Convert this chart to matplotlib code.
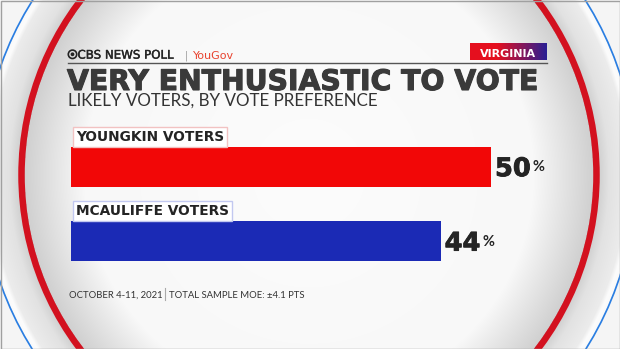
import numpy as np
import matplotlib.pyplot as plt
from matplotlib.patches import Circle, Rectangle
import matplotlib.patheffects as pe

groups = ["YOUNGKIN VOTERS", "MCAULIFFE VOTERS"]
values = [50, 44]
bar_colors = ["#f20707", "#1b2ab5"]
box_edges = ["#f2c2c2", "#c2c8f0"]

title = "VERY ENTHUSIASTIC TO VOTE"
subtitle = "LIKELY VOTERS, BY VOTE PREFERENCE"
state = "VIRGINIA"
footer_date = "OCTOBER 4-11, 2021"
footer_moe = "TOTAL SAMPLE MOE: ±4.1 PTS"

W, H = 620, 349
plt.rcParams["font.family"] = ["Lato", "DejaVu Sans"]
heavy = ["DejaVu Sans"]
dark = "#242424"

fig = plt.figure(figsize=(W / 100, H / 100), dpi=100)
fig.patch.set_facecolor("#f4f4f4")

# full-figure axes in pixel coordinates for the backdrop and the header text
bg = fig.add_axes([0, 0, 1, 1])

cx, cy = 309, 175
yy, xx = np.mgrid[0:H, 0:W] + 0.5
r = np.hypot(xx - cx, yy - cy)
shade = np.full(r.shape, 245.0)
inside = r < 284
shade[inside] = np.interp(r[inside], [0, 225, 284], [252, 248, 208])
band = (r >= 284) & (r < 326)
shade[band] = np.interp(r[band], [284, 291, 300, 318, 322, 326], [192, 210, 226, 236, 252, 250])
img = np.dstack([shade] * 3) / 255
bg.imshow(img, extent=(0, W, H, 0), interpolation="bilinear")

bg.add_patch(Circle((cx, cy), 287.5, fill=False, ec="#d3111f", lw=6.5 * 0.72))
bg.add_patch(Circle((cx, cy), 327, fill=False, ec="#2a7ee2", lw=1.7 * 0.72))
bg.add_patch(Rectangle((0.5, 0.5), W - 1, H - 1, fill=False, ec="#a0a0a0", lw=1))

# header: cbs eye + poll name + yougov
bg.add_patch(Circle((72.5, 54.3), 4.2, fill=False, ec=dark, lw=1.2))
bg.add_patch(Circle((72.5, 54.3), 1.9, fc=dark, ec="none"))
bg.text(77.5, 58.6, "CBS NEWS POLL", fontsize=8.5, family=heavy, color=dark, va="baseline",
        path_effects=[pe.withStroke(linewidth=0.3, foreground=dark)])
bg.text(185, 58.6, "|", fontsize=7, family=heavy, color="#999999", va="baseline")
bg.text(193, 58.6, "YouGov", fontsize=8.0, family=heavy, color="#e8432f", va="baseline")
bg.plot([68, 547], [62.8, 62.8], color="#555555", lw=1.0)

# state tag with red-to-blue gradient
grad = np.linspace(0, 1, 200)
red = np.array([0.90, 0.06, 0.12])
blue = np.array([0.16, 0.12, 0.58])
mix = np.clip((grad - 0.35) / 0.65, 0, 1)[:, None]
tag = (red * (1 - mix) + blue * mix)[None, :, :]
bg.imshow(tag, extent=(470, 547, 60.5, 44), aspect="auto", interpolation="bilinear")
bg.text(508.5, 56.6, state, fontsize=8.0, family=heavy, weight="bold", color="white",
        ha="center", va="baseline")

t_title = bg.text(67, 90, title, fontsize=20, family=heavy, weight="bold", color="#3a3a3a",
                  va="baseline", path_effects=[pe.withStroke(linewidth=0.8, foreground="#3a3a3a")])
t_sub = bg.text(68, 106, subtitle, fontsize=11, color="#333333", va="baseline")

bg.text(69, 298, footer_date, fontsize=6.8, color="#333333", va="baseline")
bg.plot([164.5, 164.5], [288, 300], color="#aaaaaa", lw=0.8)
bg.text(169, 298, footer_moe, fontsize=6.8, color="#333333", va="baseline")

bg.set_xlim(0, W)
bg.set_ylim(H, 0)
bg.set_aspect("auto")
bg.axis("off")

# fit title/subtitle widths to the reference
fig.canvas.draw()
rend = fig.canvas.get_renderer()
for t, w in [(t_title, 470), (t_sub, 310)]:
    t.set_fontsize(t.get_fontsize() * w / t.get_window_extent(rend).width)

# bar axes: 8.4 px per point, bars 40 px tall, 74.5 px apart
ax = fig.add_axes([71 / W, 1 - 280 / H, 520 / W, 160 / H])
ax.patch.set_alpha(0)
ax.set_xlim(0, 520 / 8.4)
ax.set_ylim(1.521, -0.627)
ax.barh(range(len(values)), values, height=0.537, color=bar_colors, lw=0)
ax.axis("off")

for i, (g, v) in enumerate(zip(groups, values)):
    ax.annotate(g, xy=(0, i), xytext=(3.8, 18.6), textcoords="offset points",
                fontsize=9.9, family=heavy, weight="bold", color=dark, va="baseline",
                bbox=dict(boxstyle="square,pad=0.22", fc="white", ec=box_edges[i], lw=1))
    num = ax.annotate(str(v), xy=(v, i), xytext=(2.9, -6.8), textcoords="offset points",
                      fontsize=18.5, family=heavy, weight="bold", color=dark, va="baseline",
                      path_effects=[pe.withStroke(linewidth=0.6, foreground=dark)])
    ax.annotate("%", xy=(1, 1), xycoords=num, xytext=(1.5, -2.8), textcoords="offset points",
                fontsize=10.5, weight="bold", color=dark, va="top")

fig.savefig("out.png", dpi=100, facecolor=fig.get_facecolor())
